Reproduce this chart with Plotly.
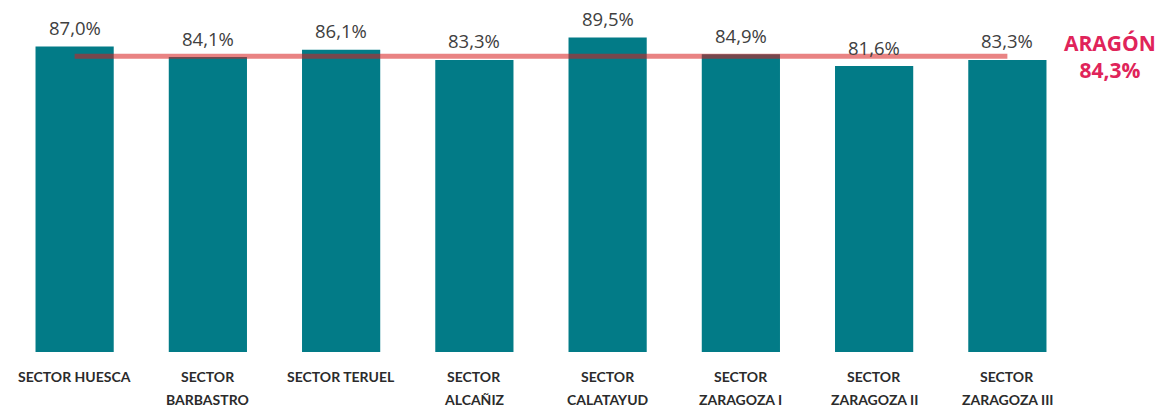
import plotly.graph_objects as go

categories = ["SECTOR HUESCA", "SECTOR<br>BARBASTRO", "SECTOR TERUEL", "SECTOR<br>ALCAÑIZ",
              "SECTOR<br>CALATAYUD", "SECTOR<br>ZARAGOZA I", "SECTOR<br>ZARAGOZA II", "SECTOR<br>ZARAGOZA III"]
values = [87.0, 84.1, 86.1, 83.3, 89.5, 84.9, 81.6, 83.3]
aragon_value = 84.3
aragon_label = "ARAGÓN"

def fmt(v):
    return f"{v:.1f}%".replace(".", ",")

fig = go.Figure()
fig.add_trace(go.Bar(
    x=categories, y=values,
    marker=dict(color="#027B87", line=dict(width=0)),
    hoverinfo="skip", showlegend=False,
))
fig.add_trace(go.Scatter(
    x=[categories[0], categories[-1]], y=[aragon_value, aragon_value],
    mode="lines", line=dict(color="rgba(215,30,30,0.55)", width=5),
    hoverinfo="skip", showlegend=False,
))

annotations = []
for c, v in zip(categories, values):
    annotations.append(dict(
        x=c, y=v, xref="x", yref="y", text=fmt(v), showarrow=False,
        yanchor="middle", yshift=19,
        font=dict(family="Open Sans", size=18.5, color="#404040"),
    ))
    for i, line in enumerate(c.split("<br>")):
        annotations.append(dict(
            x=c, y=0, xref="x", yref="paper", text=f"<b>{line}</b>", showarrow=False,
            yanchor="middle", yshift=-(24 + 23.5 * i),
            font=dict(family="Lato", size=14, color="#2b2b2b"),
        ))
annotations.append(dict(
    x=1.034, y=aragon_value, xref="paper", yref="y",
    text=f"<b>{aragon_label}<br>{fmt(aragon_value)}</b>", showarrow=False,
    xanchor="center", yanchor="middle",
    font=dict(family="Open Sans", size=21, color="#E0245A"),
))

fig.update_layout(
    width=1168, height=412,
    margin=dict(l=8, r=94, t=0, b=60),
    paper_bgcolor="white", plot_bgcolor="white",
    bargap=0.413,
    separators=",.",
    annotations=annotations,
    xaxis=dict(showgrid=False, zeroline=False, showline=False, ticks="", showticklabels=False),
    yaxis=dict(range=[2.9, 99.8], visible=False, showgrid=False, zeroline=False),
)

fig.write_html("out.html", config={"displayModeBar": False},
               post_script="document.body.style.margin='0';document.body.style.overflow='hidden';")
